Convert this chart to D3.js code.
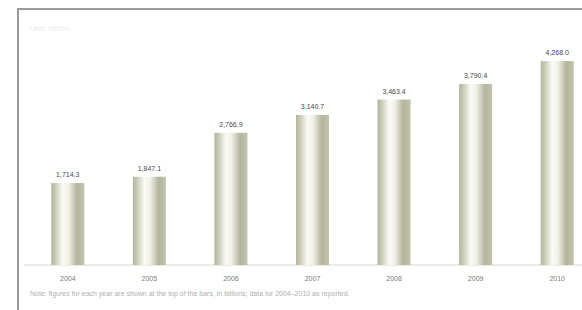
<!DOCTYPE html>
<html>
<head>
<meta charset="utf-8">
<script src="https://cdn.jsdelivr.net/npm/d3@7"></script>
<style>
  body { margin: 0; background: #fff; }
  svg { display: block; font-family: "Liberation Sans", Arial, sans-serif; }
</style>
</head>
<body>
<svg id="chart" width="582" height="310"></svg>
<script>
// datos del gráfico
const years = ['2004', '2005', '2006', '2007', '2008', '2009', '2010'];
const values = [1714.3, 1847.1, 2766.9, 3140.7, 3463.4, 3790.4, 4268.0];
const titleText = 'Unit: billion';
const noteText = 'Note: figures for each year are shown at the top of the bars, in billions; data for 2004–2010 as reported.';

const svg = d3.select('#chart');

// marco gris (arriba e izquierda)
svg.append('path')
  .attr('d', 'M18,310 L18,9 L582,9')
  .attr('fill', 'none')
  .attr('stroke', '#9a9a9a')
  .attr('stroke-width', 2);

// escalas
const x = d3.scaleBand()
  .domain(years)
  .range([27, 598])
  .paddingInner(0.595)
  .paddingOuter(0.2975);

const y = d3.scaleLinear()
  .domain([0, 4500])
  .range([265, 50]);

// degradado tipo cilindro
const defs = svg.append('defs');
const grad = defs.append('linearGradient')
  .attr('id', 'barGrad')
  .attr('x1', '0%').attr('x2', '100%')
  .attr('y1', '0%').attr('y2', '0%');
[
  ['0%', '#b3b59d'],
  ['12%', '#c8cab4'],
  ['35%', '#fbfbf6'],
  ['52%', '#f1f1e8'],
  ['78%', '#b2b49b'],
  ['100%', '#c2c4ad']
].forEach(s => grad.append('stop').attr('offset', s[0]).attr('stop-color', s[1]));

// título tenue
svg.append('text')
  .attr('x', 30)
  .attr('y', 31)
  .attr('font-size', 8)
  .attr('fill', '#e6ecee')
  .text(titleText);

// línea base
svg.append('line')
  .attr('x1', 24).attr('x2', 582)
  .attr('y1', y(0)).attr('y2', y(0))
  .attr('stroke', '#d6d8cc')
  .attr('stroke-width', 1);

// barras
svg.selectAll('.bar')
  .data(values)
  .enter()
  .append('rect')
  .attr('class', 'bar')
  .attr('x', (d, i) => x(years[i]))
  .attr('y', d => y(d))
  .attr('width', x.bandwidth())
  .attr('height', d => y(0) - y(d))
  .attr('fill', 'url(#barGrad)');

// etiquetas de valor
svg.selectAll('.val')
  .data(values)
  .enter()
  .append('text')
  .attr('class', 'val')
  .attr('x', (d, i) => x(years[i]) + x.bandwidth() / 2)
  .attr('y', d => y(d) - 6)
  .attr('text-anchor', 'middle')
  .attr('font-size', 7)
  .attr('fill', '#4a4a4a')
  .text(d => d3.format(',.1f')(d));

// eje x
const ejeX = d3.axisBottom(x).tickSize(0).tickPadding(11);
svg.append('g')
  .attr('transform', `translate(0, ${y(0)})`)
  .call(ejeX)
  .call(g => g.select('.domain').remove())
  .call(g => g.selectAll('text')
    .attr('font-size', 7)
    .attr('fill', '#7a7a7a'));

// nota al pie
svg.append('text')
  .attr('x', 30)
  .attr('y', 296)
  .attr('font-size', 7)
  .attr('fill', '#b0b0b0')
  .text(noteText);
</script>
</body>
</html>
